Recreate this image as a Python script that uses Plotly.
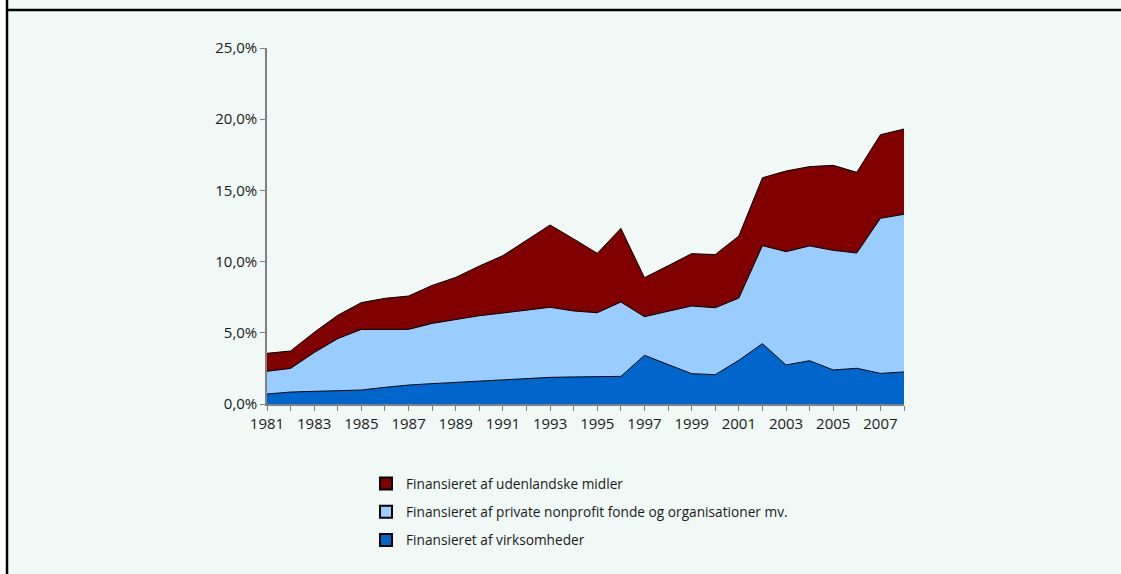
import plotly.graph_objects as go

years = list(range(1981, 2009))

virksomheder = [0.70, 0.84, 0.89, 0.94, 0.98, 1.17, 1.33, 1.43, 1.52, 1.64, 1.69, 1.78, 1.87, 1.90,
                1.90, 1.94, 3.42, 2.79, 2.13, 2.06, 3.07, 4.24, 2.74, 3.04, 2.39, 2.51, 2.15, 2.25]
private_nonprofit = [1.60, 1.66, 2.72, 3.65, 4.26, 4.07, 3.91, 4.23, 4.43, 4.56, 4.70, 4.80, 4.92, 4.63,
                     4.51, 5.22, 2.71, 3.72, 4.75, 4.70, 4.37, 6.88, 7.96, 8.06, 8.40, 8.09, 10.89, 11.07]
udenlandske = [1.26, 1.22, 1.42, 1.64, 1.88, 2.18, 2.34, 2.67, 2.94, 3.49, 4.03, 4.94, 5.78, 5.06,
               4.17, 5.17, 2.74, 3.20, 3.68, 3.73, 4.36, 4.77, 5.66, 5.57, 5.97, 5.67, 5.87, 5.99]

series_names = ["Finansieret af virksomheder",
                "Finansieret af private nonprofit fonde og organisationer mv.",
                "Finansieret af udenlandske midler"]
series_colors = ["#0066cc", "#99ccff", "#800000"]

y_tickvals = [0, 5, 10, 15, 20, 25]
y_ticktext = ["0,0%", "5,0%", "10,0%", "15,0%", "20,0%", "25,0%"]
x_ticktext = [str(y) if (y - 1981) % 2 == 0 else "" for y in years]

FONT = "Open Sans"

fig = go.Figure()
for i, (name, vals, col) in enumerate(zip(series_names, [virksomheder, private_nonprofit, udenlandske], series_colors)):
    fig.add_trace(go.Scatter(
        x=years, y=vals, name=name, mode="lines",
        stackgroup="one", fillcolor=col,
        line=dict(color="black", width=1),
        showlegend=False, legendgroup=f"g{i}",
        hoverinfo="x+y+name",
    ))
    # legend entry with square swatch
    fig.add_trace(go.Scatter(
        x=[None], y=[None], name=name, mode="markers",
        marker=dict(symbol="square", size=10, color=col, line=dict(color="black", width=1)),
        legendgroup=f"g{i}", showlegend=True, legendrank=100 - i,
    ))

W, H = 1121, 574
L, R, T, B = 267, 904, 48, 404

def px_x(p):
    return (p - L) / (R - L)

def px_y(p):
    return (B - p) / (B - T)

shapes = [
    dict(type="rect", xref="paper", yref="paper", x0=px_x(-5), x1=px_x(6), y0=px_y(600), y1=px_y(-5),
         fillcolor="white", line=dict(width=0), layer="below"),
    dict(type="line", xref="paper", yref="paper", x0=px_x(7), x1=px_x(1125), y0=px_y(10), y1=px_y(10),
         line=dict(color="black", width=2.5)),
    dict(type="line", xref="paper", yref="paper", x0=px_x(7), x1=px_x(7), y0=px_y(-5), y1=px_y(600),
         line=dict(color="black", width=2.5)),
]

fig.update_layout(
    width=W, height=H,
    margin=dict(l=L, r=W - R, t=T, b=H - B),
    paper_bgcolor="#f0f9f5", plot_bgcolor="#f0f9f5",
    font=dict(family=FONT, size=15, color="#1a1a1a"),
    showlegend=True,
    legend=dict(x=px_x(366), y=px_y(468), xanchor="left", yanchor="top",
                traceorder="grouped", font=dict(size=13.7, family=FONT),
                bgcolor="rgba(0,0,0,0)", itemsizing="constant", tracegroupgap=7.5),
    shapes=shapes,
    xaxis=dict(range=[1981, 2008], tickvals=years, ticktext=x_ticktext,
               ticks="outside", ticklen=5, tickcolor="#808080",
               showline=True, linecolor="#808080", linewidth=1.5,
               showgrid=False, zeroline=False, tickangle=0),
    yaxis=dict(range=[0, 25], tickvals=y_tickvals, ticktext=y_ticktext,
               ticks="outside", ticklen=5, tickcolor="#808080",
               showline=True, linecolor="#808080", linewidth=1.5,
               showgrid=False, zeroline=False),
)

fig.write_html("out.html", config={"displayModeBar": False})

with open("out.html", "r", encoding="utf-8") as f:
    html = f.read()
html = html.replace("<head>", "<head><style>html,body{margin:0;padding:0;overflow:hidden;}</style>", 1)
with open("out.html", "w", encoding="utf-8") as f:
    f.write(html)
